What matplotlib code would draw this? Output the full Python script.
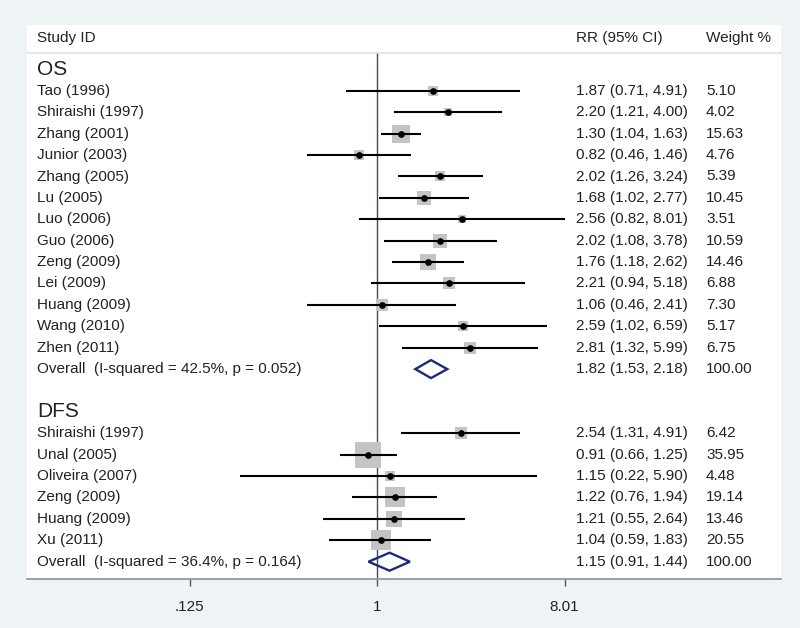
import numpy as np
import matplotlib
matplotlib.use("Agg")
import matplotlib.pyplot as plt
from matplotlib.patches import Polygon
import matplotlib.transforms as mtransforms

plt.rcParams['font.family'] = ['Liberation Sans', 'DejaVu Sans']

# ---- data ----
os_studies = ["Tao (1996)", "Shiraishi (1997)", "Zhang (2001)", "Junior (2003)",
              "Zhang (2005)", "Lu (2005)", "Luo (2006)", "Guo (2006)", "Zeng (2009)",
              "Lei (2009)", "Huang (2009)", "Wang (2010)", "Zhen (2011)"]
os_rr = [1.87, 2.20, 1.30, 0.82, 2.02, 1.68, 2.56, 2.02, 1.76, 2.21, 1.06, 2.59, 2.81]
os_lo = [0.71, 1.21, 1.04, 0.46, 1.26, 1.02, 0.82, 1.08, 1.18, 0.94, 0.46, 1.02, 1.32]
os_hi = [4.91, 4.00, 1.63, 1.46, 3.24, 2.77, 8.01, 3.78, 2.62, 5.18, 2.41, 6.59, 5.99]
os_w = [5.10, 4.02, 15.63, 4.76, 5.39, 10.45, 3.51, 10.59, 14.46, 6.88, 7.30, 5.17, 6.75]
os_overall = (1.82, 1.53, 2.18, 100.00)
os_overall_label = "Overall  (I-squared = 42.5%, p = 0.052)"

dfs_studies = ["Shiraishi (1997)", "Unal (2005)", "Oliveira (2007)", "Zeng (2009)",
               "Huang (2009)", "Xu (2011)"]
dfs_rr = [2.54, 0.91, 1.15, 1.22, 1.21, 1.04]
dfs_lo = [1.31, 0.66, 0.22, 0.76, 0.55, 0.59]
dfs_hi = [4.91, 1.25, 5.90, 1.94, 2.64, 1.83]
dfs_w = [6.42, 35.95, 4.48, 19.14, 13.46, 20.55]
dfs_overall = (1.15, 0.91, 1.44, 100.00)
dfs_overall_label = "Overall  (I-squared = 36.4%, p = 0.164)"

xticks = [0.125, 1, 8.01]
xticklabels = [".125", "1", "8.01"]

# ---- figure ----
W, H = 800, 628
fig = plt.figure(figsize=(W / 100, H / 100), dpi=100)
fig.patch.set_facecolor("#eef3f5")
left_px, right_px, top_px, bot_px = 27, 781, 25, 579
ax = fig.add_axes([left_px / W, 1 - bot_px / H, (right_px - left_px) / W, (bot_px - top_px) / H])
ax.set_facecolor("white")

ax.set_xscale("log", base=2)
px_per = 62.5
x1_px = 377
ax.set_xlim(2 ** (-(x1_px - left_px) / px_per), 2 ** ((right_px - x1_px) / px_per))
row_px = 21.4
row0_px = 69.5
ax.set_ylim((bot_px - row0_px) / row_px, (top_px - row0_px) / row_px)

trans = mtransforms.blended_transform_factory(ax.transAxes, ax.transData)
def xa(px):
    return (px - left_px) / (right_px - left_px)

txt_col = "#222222"
fs = 11
x_lab, x_rr, x_w = xa(37), xa(576), xa(706)

# header
hdr_y = (38 - row0_px) / row_px
ax.text(x_lab, hdr_y, "Study ID", transform=trans, fontsize=fs, va="center", color=txt_col)
ax.text(x_rr, hdr_y, "RR (95% CI)", transform=trans, fontsize=fs, va="center", color=txt_col)
ax.text(x_w, hdr_y, "Weight %", transform=trans, fontsize=fs, va="center", color=txt_col)
sep_y = (52.5 - row0_px) / row_px
ax.plot([0, 1], [sep_y, sep_y], transform=trans, color="#dde3e6", lw=1.2, clip_on=False)

# reference line at 1
ax.plot([1, 1], [sep_y + 0.03, ax.get_ylim()[0]], color="#3d4b5c", lw=1.0, zorder=1)

sq_col = "#c4c4c4"
diam_col = "#1f2a78"

def draw_group(title, start, names, rr, lo, hi, w, overall, olabel):
    ax.text(x_lab, start, title, transform=trans, fontsize=15, va="center", color=txt_col)
    for i, (n, r, l, h, ww) in enumerate(zip(names, rr, lo, hi, w)):
        y = start + 1 + i
        ax.scatter([r], [y], s=10 * ww, marker="s", color=sq_col, linewidths=0, zorder=2)
        ax.plot([l, h], [y, y], color="black", lw=1.5, zorder=3, solid_capstyle="butt")
        ax.plot([r], [y], "o", color="black", ms=3.8, zorder=4)
        ax.text(x_lab, y, n, transform=trans, fontsize=fs, va="center", color=txt_col)
        ax.text(x_rr, y, f"{r:.2f} ({l:.2f}, {h:.2f})", transform=trans, fontsize=fs,
                va="center", color=txt_col)
        ax.text(x_w, y, f"{ww:.2f}", transform=trans, fontsize=fs, va="center", color=txt_col)
    y = start + 1 + len(names)
    r, l, h, ww = overall
    dh = 0.42
    poly = Polygon([(l, y), (r, y - dh), (h, y), (r, y + dh)], closed=True,
                   facecolor="none", edgecolor=diam_col, lw=1.7, zorder=4)
    ax.add_patch(poly)
    ax.text(x_lab, y, olabel, transform=trans, fontsize=fs, va="center", color=txt_col)
    ax.text(x_rr, y, f"{r:.2f} ({l:.2f}, {h:.2f})", transform=trans, fontsize=fs,
            va="center", color=txt_col)
    ax.text(x_w, y, f"{ww:.2f}", transform=trans, fontsize=fs, va="center", color=txt_col)

draw_group("OS", 0, os_studies, os_rr, os_lo, os_hi, os_w, os_overall, os_overall_label)
draw_group("DFS", 16, dfs_studies, dfs_rr, dfs_lo, dfs_hi, dfs_w, dfs_overall, dfs_overall_label)

# axes styling
for s in ["top", "right", "left"]:
    ax.spines[s].set_visible(False)
ax.spines["bottom"].set_color("#8a9098")
ax.spines["bottom"].set_linewidth(1.2)
ax.set_yticks([])
ax.set_xticks(xticks)
ax.set_xticklabels(xticklabels)
ax.xaxis.set_minor_locator(matplotlib.ticker.NullLocator())
ax.tick_params(axis="x", length=5, width=1, color="#555555", labelsize=fs, labelcolor=txt_col, pad=10)

fig.savefig("out.png", dpi=100, facecolor=fig.get_facecolor())
